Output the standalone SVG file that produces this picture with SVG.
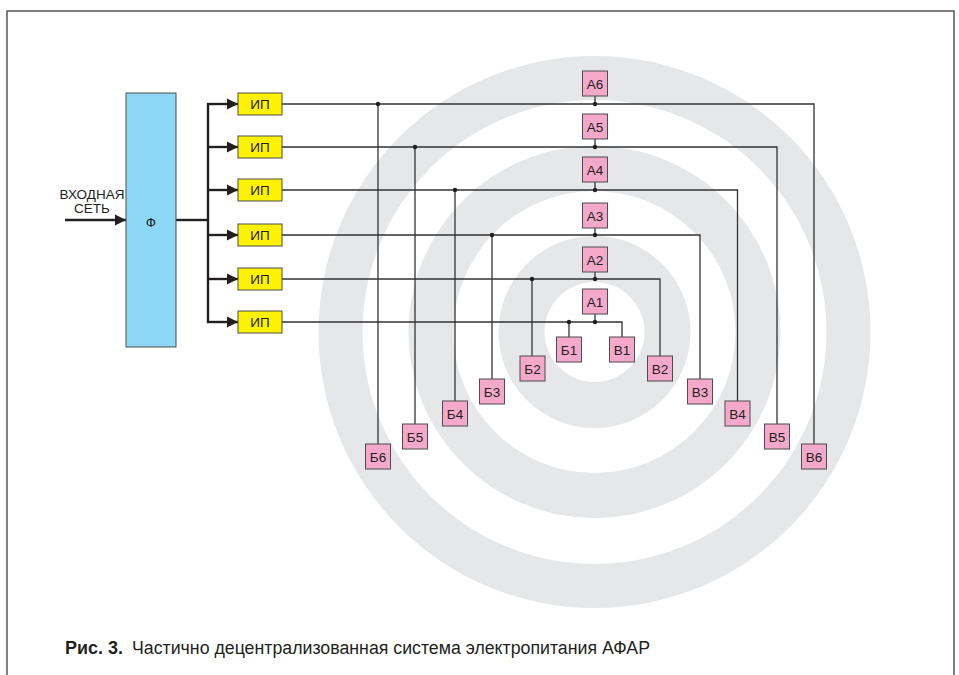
<svg xmlns="http://www.w3.org/2000/svg" width="959" height="675" viewBox="0 0 959 675">
<style>
.lbl{font-family:"Liberation Sans",Arial,sans-serif;font-size:13.5px;fill:#231f20;text-anchor:middle}
.ip{fill:#fff200;stroke:#4d4d4d;stroke-width:1}
.pk{fill:#f4a9cb;stroke:#4d4d4d;stroke-width:1}
.ln{fill:none;stroke:#333;stroke-width:1.3}
.bus{fill:none;stroke:#231f20;stroke-width:2.4}
.dot{fill:#231f20}
.ring{fill:#e6e7e8}
</style>
<defs>
<marker id="ah" markerUnits="userSpaceOnUse" markerWidth="12" markerHeight="12" refX="11" refY="6" orient="auto">
<path d="M0,0.5 L11,6 L0,11.5 Z" fill="#231f20"/>
</marker>
</defs>
<rect x="0" y="0" width="959" height="675" fill="#fff"/>
<path d="M7,675 V11 H954 V675" fill="none" stroke="#555" stroke-width="1.5"/>
<g id="rings">
<circle class="ring" cx="594.5" cy="332" r="276"/>
<circle cx="594.5" cy="332" r="232" fill="#fff"/>
<circle class="ring" cx="594.5" cy="332" r="186"/>
<circle cx="594.5" cy="332" r="141" fill="#fff"/>
<circle class="ring" cx="594.5" cy="332" r="96"/>
<circle cx="594.5" cy="332" r="50" fill="#fff"/>
</g>
<g id="connectors">
<line class="bus" x1="65" y1="220" x2="126" y2="220" marker-end="url(#ah)"/>
<line class="bus" x1="176" y1="220" x2="208" y2="220"/>
<line class="bus" x1="208" y1="103" x2="208" y2="323"/>
<line class="bus" x1="207" y1="104" x2="238" y2="104" marker-end="url(#ah)"/>
<line class="bus" x1="207" y1="147" x2="238" y2="147" marker-end="url(#ah)"/>
<line class="bus" x1="207" y1="190" x2="238" y2="190" marker-end="url(#ah)"/>
<line class="bus" x1="207" y1="235" x2="238" y2="235" marker-end="url(#ah)"/>
<line class="bus" x1="207" y1="279" x2="238" y2="279" marker-end="url(#ah)"/>
<line class="bus" x1="207" y1="322" x2="238" y2="322" marker-end="url(#ah)"/>
<path class="ln" d="M282,104 H814 V444"/>
<path class="ln" d="M378,104 V444"/>
<path class="ln" d="M595,96 V104"/>
<path class="ln" d="M282,147 H777 V424"/>
<path class="ln" d="M415,147 V424"/>
<path class="ln" d="M595,139 V147"/>
<path class="ln" d="M282,190 H737.5 V401"/>
<path class="ln" d="M455,190 V401"/>
<path class="ln" d="M595,182 V190"/>
<path class="ln" d="M282,235 H700 V379"/>
<path class="ln" d="M492,235 V379"/>
<path class="ln" d="M595,228 V235"/>
<path class="ln" d="M282,279 H660 V356"/>
<path class="ln" d="M532,279 V356"/>
<path class="ln" d="M595,272 V279"/>
<path class="ln" d="M282,322 H622 V337"/>
<path class="ln" d="M569,322 V337"/>
<path class="ln" d="M595,314 V322"/>
<circle class="dot" cx="378" cy="104" r="2.2"/>
<circle class="dot" cx="595" cy="104" r="2.2"/>
<circle class="dot" cx="415" cy="147" r="2.2"/>
<circle class="dot" cx="595" cy="147" r="2.2"/>
<circle class="dot" cx="455" cy="190" r="2.2"/>
<circle class="dot" cx="595" cy="190" r="2.2"/>
<circle class="dot" cx="492" cy="235" r="2.2"/>
<circle class="dot" cx="595" cy="235" r="2.2"/>
<circle class="dot" cx="532" cy="279" r="2.2"/>
<circle class="dot" cx="595" cy="279" r="2.2"/>
<circle class="dot" cx="569" cy="322" r="2.2"/>
<circle class="dot" cx="595" cy="322" r="2.2"/>
</g>
<g id="input-label">
<text class="lbl" x="92" y="199" font-size="13.5">ВХОДНАЯ</text>
<text class="lbl" x="92" y="213" font-size="13.5">СЕТЬ</text>
</g>
<g id="n-f">
<rect x="126" y="93" width="50" height="254" fill="#8cd8f6" stroke="#4d4d4d" stroke-width="1"/>
<text class="lbl" x="151" y="227">Ф</text>
</g>
<g id="n-ip6"><rect class="ip" x="238" y="93" width="44" height="22"/><text class="lbl" x="260" y="109">ИП</text></g>
<g id="n-ip5"><rect class="ip" x="238" y="136" width="44" height="22"/><text class="lbl" x="260" y="152">ИП</text></g>
<g id="n-ip4"><rect class="ip" x="238" y="179" width="44" height="22"/><text class="lbl" x="260" y="195">ИП</text></g>
<g id="n-ip3"><rect class="ip" x="238" y="224" width="44" height="22"/><text class="lbl" x="260" y="240">ИП</text></g>
<g id="n-ip2"><rect class="ip" x="238" y="268" width="44" height="22"/><text class="lbl" x="260" y="284">ИП</text></g>
<g id="n-ip1"><rect class="ip" x="238" y="311" width="44" height="22"/><text class="lbl" x="260" y="327">ИП</text></g>
<g id="n-a6"><rect class="pk" x="582.5" y="71" width="25" height="25"/><text class="lbl" x="595" y="88.5">А6</text></g>
<g id="n-a5"><rect class="pk" x="582.5" y="114" width="25" height="25"/><text class="lbl" x="595" y="131.5">А5</text></g>
<g id="n-a4"><rect class="pk" x="582.5" y="157" width="25" height="25"/><text class="lbl" x="595" y="174.5">А4</text></g>
<g id="n-a3"><rect class="pk" x="582.5" y="203" width="25" height="25"/><text class="lbl" x="595" y="220.5">А3</text></g>
<g id="n-a2"><rect class="pk" x="582.5" y="247" width="25" height="25"/><text class="lbl" x="595" y="264.5">А2</text></g>
<g id="n-a1"><rect class="pk" x="582.5" y="289" width="25" height="25"/><text class="lbl" x="595" y="306.5">А1</text></g>
<g id="n-b1"><rect class="pk" x="556.5" y="337" width="25" height="25"/><text class="lbl" x="569" y="354.5">Б1</text></g>
<g id="n-b2"><rect class="pk" x="520" y="356" width="25" height="25"/><text class="lbl" x="532.5" y="373.5">Б2</text></g>
<g id="n-b3"><rect class="pk" x="479.5" y="379" width="25" height="25"/><text class="lbl" x="492" y="396.5">Б3</text></g>
<g id="n-b4"><rect class="pk" x="442.5" y="401" width="25" height="25"/><text class="lbl" x="455" y="418.5">Б4</text></g>
<g id="n-b5"><rect class="pk" x="402.5" y="424" width="25" height="25"/><text class="lbl" x="415" y="441.5">Б5</text></g>
<g id="n-b6"><rect class="pk" x="365.5" y="444" width="25" height="25"/><text class="lbl" x="378" y="461.5">Б6</text></g>
<g id="n-v1"><rect class="pk" x="609.5" y="337" width="25" height="25"/><text class="lbl" x="622" y="354.5">В1</text></g>
<g id="n-v2"><rect class="pk" x="647.5" y="356" width="25" height="25"/><text class="lbl" x="660" y="373.5">В2</text></g>
<g id="n-v3"><rect class="pk" x="687.5" y="379" width="25" height="25"/><text class="lbl" x="700" y="396.5">В3</text></g>
<g id="n-v4"><rect class="pk" x="725" y="401" width="25" height="25"/><text class="lbl" x="737.5" y="418.5">В4</text></g>
<g id="n-v5"><rect class="pk" x="764.5" y="424" width="25" height="25"/><text class="lbl" x="777" y="441.5">В5</text></g>
<g id="n-v6"><rect class="pk" x="801.5" y="444" width="25" height="25"/><text class="lbl" x="814" y="461.5">В6</text></g>
<g id="caption" font-family="'Liberation Sans',Arial,sans-serif" font-size="18" fill="#231f20">
<text x="65" y="654" font-weight="bold" textLength="58" lengthAdjust="spacingAndGlyphs">Рис. 3.</text>
<text x="132" y="654" textLength="518" lengthAdjust="spacingAndGlyphs">Частично децентрализованная система электропитания АФАР</text>
</g>
</svg>
